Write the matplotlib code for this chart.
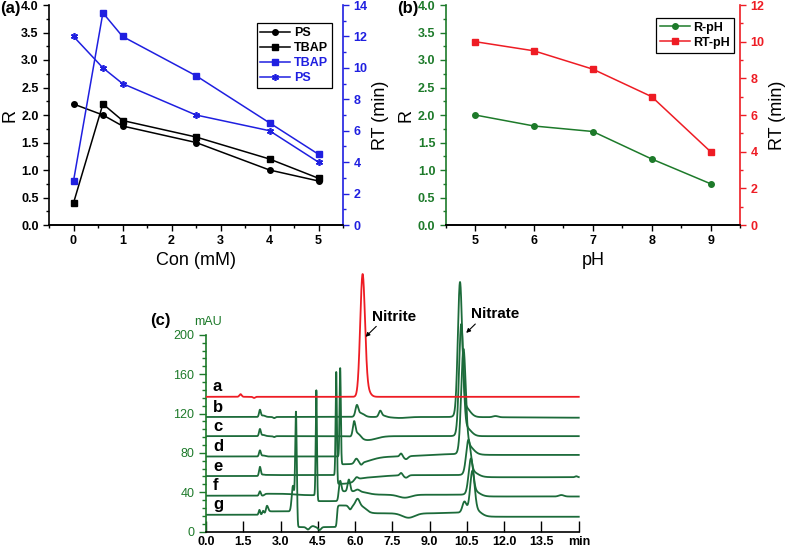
#R / RT study and ion chromatograms
import numpy as np
import matplotlib.pyplot as plt
from matplotlib.ticker import MultipleLocator, FixedLocator

plt.rcParams['font.family'] = ['Liberation Sans', 'DejaVu Sans']
plt.rcParams['font.weight'] = 'bold'

# (a) effect of ion-pair reagent concentration
con = [0, 0.6, 1, 2.5, 4, 5]
r_ps = [2.2, 2.0, 1.8, 1.5, 1.0, 0.8]
r_tbap = [0.4, 2.2, 1.9, 1.6, 1.2, 0.85]
rt_tbap = [2.8, 13.5, 12.0, 9.5, 6.5, 4.5]
rt_ps = [12.0, 10.0, 9.0, 7.0, 6.0, 4.0]

# (b) effect of pH
ph = [5, 6, 7, 8, 9]
r_ph = [2.0, 1.8, 1.7, 1.2, 0.75]
rt_ph = [10.0, 9.5, 8.5, 7.0, 4.0]

# (c) chromatograms: baseline level, peaks (time, height, width), baseline shifts (time, change, width)
trace_names = ['a', 'b', 'c', 'd', 'e', 'f', 'g']
baselines = [137, 116.5, 97, 76.3, 56.4, 36.4, 17]
peaks_a = [(1.39, 2.7, 0.045), (1.93, -1.2, 0.04), (6.3, 119, 0.095), (6.43, 9, 0.14)]
steps_a = []
peaks_b = [(2.17, 7, 0.035), (2.3, 1.5, 0.08), (2.74, -1.2, 0.04), (6.07, 10, 0.055), (6.22, 4, 0.14),
           (7.01, 5.5, 0.055), (7.12, 1.5, 0.12), (7.8, -1, 0.3), (10.22, 130, 0.085), (10.4, 11, 0.2),
           (11.65, 1.2, 0.1)]
steps_b = [(12.5, -0.8, 2.0)]
peaks_c = [(2.17, 7, 0.035), (2.3, 1.2, 0.08), (2.74, -1, 0.04), (5.96, 14, 0.05), (6.1, 5, 0.12),
           (6.5, -4, 0.35), (10.27, 108, 0.085), (10.45, 9, 0.2)]
steps_c = []
peaks_d = [(2.17, 6, 0.035), (2.3, 1, 0.08), (5.40, 90, 0.025), (6.05, 5, 0.07), (6.25, -2, 0.05),
           (7.85, 3, 0.05), (8.05, -3, 0.08), (10.36, 101, 0.09), (10.54, 9, 0.2)]
steps_d = [(5.44, -8, 0.02), (6.6, 8, 0.5), (8.8, 2.5, 0.8), (11.0, -0.9, 0.3)]
peaks_e = [(2.17, 9, 0.035), (2.3, 1.5, 0.08), (5.24, 105, 0.025), (6.05, 3, 0.07), (7.85, 2.5, 0.05),
           (8.05, -2.5, 0.08), (10.56, 33, 0.09), (10.7, 4, 0.2), (14.9, 1, 0.05)]
steps_e = [(2.4, 1, 0.05), (5.28, -9, 0.02), (6.0, 6, 0.25), (7.0, 3, 0.7), (11.0, -2.2, 0.3)]
peaks_f = [(2.17, 4.5, 0.035), (4.44, 107, 0.025), (5.4, 11, 0.045), (5.75, 12, 0.05), (6.1, 2, 0.08),
           (8.0, -3, 0.25), (10.66, 34, 0.09), (10.8, 4, 0.2), (14.3, 1.5, 0.1)]
steps_f = [(2.35, 2, 0.05), (3.6, -1.5, 0.4), (4.47, -6, 0.02), (5.33, 10, 0.04), (6.5, -3.5, 0.3),
           (11.0, -1.8, 0.3)]
peaks_g = [(2.15, 5, 0.03), (2.3, 4, 0.035), (2.45, 6, 0.05), (3.5, 26, 0.05), (3.62, 100, 0.03),
           (4.1, -2.5, 0.06), (4.3, 1, 0.06), (4.57, -3, 0.06), (5.8, -4, 0.06), (6.1, 7, 0.08),
           (8.15, -4.5, 0.25), (10.4, 11, 0.08), (10.72, 40, 0.09), (10.86, 4, 0.2)]
steps_g = [(2.42, 3.5, 0.03), (3.68, -16, 0.02), (5.27, 22, 0.03), (6.45, -8, 0.18), (9.6, 0.8, 0.4),
           (11.0, -4.3, 0.3)]
all_peaks = [peaks_a, peaks_b, peaks_c, peaks_d, peaks_e, peaks_f, peaks_g]
all_steps = [steps_a, steps_b, steps_c, steps_d, steps_e, steps_f, steps_g]
time_ticks = [0, 1.5, 3, 4.5, 6, 7.5, 9, 10.5, 12, 13.5, 15]
time_labels = ['0.0', '1.5', '3.0', '4.5', '6.0', '7.5', '9.0', '10.5', '12.0', '13.5', 'min']

blue = '#1f1fe0'
green = '#1d7a2a'
red = '#ee1c24'
trace_green = '#1c6b3a'

fig = plt.figure(figsize=(7.87, 5.57), dpi=100)


def style_axis(ax):
    ax.tick_params(which='major', length=4, width=1, labelsize=9)
    ax.tick_params(which='minor', length=2.5, width=1)
    for s in ax.spines.values():
        s.set_linewidth(1.2)


# ---- panel (a)
ax1 = fig.add_axes([49/787, 1-225/557, 294/787, 220/557])
ax1r = ax1.twinx()
ax1.plot(con, r_ps, '-o', color='k', ms=4, lw=1.1, label='PS')
ax1.plot(con, r_tbap, '-s', color='k', ms=4, lw=1.1, label='TBAP')
ax1r.plot(con, rt_tbap, '-s', color=blue, ms=4, lw=1.1, label='TBAP')
ax1r.plot(con, rt_ps, '-', marker=(6, 2, 0), color=blue, ms=5, mew=1.2, lw=1.1, label='PS')
ax1.set_xlim(-0.5, 5.5)
ax1.set_ylim(0, 4)
ax1r.set_ylim(0, 14)
ax1.xaxis.set_minor_locator(MultipleLocator(0.5))
ax1.set_yticks(np.arange(0, 4.01, 0.5))
ax1.set_yticklabels(['%.1f' % v for v in np.arange(0, 4.01, 0.5)])
ax1.yaxis.set_minor_locator(MultipleLocator(0.25))
ax1r.yaxis.set_major_locator(MultipleLocator(2))
ax1r.yaxis.set_minor_locator(MultipleLocator(1))
for a in (ax1, ax1r):
    style_axis(a)
    a.spines['top'].set_visible(False)
ax1.spines['right'].set_visible(False)
ax1r.spines['left'].set_visible(False)
ax1r.spines['right'].set_color(blue)
ax1r.tick_params(axis='y', which='both', colors=blue)
ax1.set_xlabel('Con (mM)', fontsize=13, fontweight='normal', labelpad=3)
ax1.set_ylabel('R', fontsize=13, fontweight='normal', labelpad=2)
ax1r.set_ylabel('RT (min)', fontsize=13, fontweight='normal', labelpad=3)
h1, l1 = ax1.get_legend_handles_labels()
h2, l2 = ax1r.get_legend_handles_labels()
leg = ax1r.legend(h1 + h2, l1 + l2, loc='upper left', bbox_to_anchor=(0.706, 0.917), borderaxespad=0,
                  fancybox=False, edgecolor='k', framealpha=1, fontsize=9, handlelength=2.4,
                  borderpad=0.3, labelspacing=0.25, handletextpad=0.3)
leg.get_frame().set_linewidth(0.9)
leg.get_texts()[2].set_color(blue)
leg.get_texts()[3].set_color(blue)

# ---- panel (b)
ax2 = fig.add_axes([445.7/787, 1-225/557, 294.3/787, 220/557])
ax2r = ax2.twinx()
ax2.plot(ph, r_ph, '-o', color=green, ms=4, lw=1.1, label='R-pH')
ax2r.plot(ph, rt_ph, '-s', color=red, ms=4, lw=1.1, label='RT-pH')
ax2.set_xlim(4.5, 9.5)
ax2.set_ylim(0, 4)
ax2r.set_ylim(0, 12)
ax2.xaxis.set_minor_locator(MultipleLocator(0.5))
ax2.set_yticks(np.arange(0, 4.01, 0.5))
ax2.set_yticklabels(['%.1f' % v for v in np.arange(0, 4.01, 0.5)])
ax2.yaxis.set_minor_locator(MultipleLocator(0.25))
ax2r.yaxis.set_major_locator(MultipleLocator(2))
ax2r.yaxis.set_minor_locator(MultipleLocator(1))
for a in (ax2, ax2r):
    style_axis(a)
    a.spines['top'].set_visible(False)
ax2.spines['right'].set_visible(False)
ax2r.spines['left'].set_visible(False)
ax2.spines['left'].set_color(green)
ax2.tick_params(axis='y', which='both', colors=green)
ax2r.spines['right'].set_color(red)
ax2r.tick_params(axis='y', which='both', colors=red)
ax2.set_xlabel('pH', fontsize=13, fontweight='normal', labelpad=3)
ax2.set_ylabel('R', fontsize=13, fontweight='normal', labelpad=2)
ax2r.set_ylabel('RT (min)', fontsize=13, fontweight='normal', labelpad=3)
h1, l1 = ax2.get_legend_handles_labels()
h2, l2 = ax2r.get_legend_handles_labels()
leg = ax2r.legend(h1 + h2, l1 + l2, loc='upper left', bbox_to_anchor=(0.7146, 0.941), borderaxespad=0,
                  fancybox=False, edgecolor='k', framealpha=1, fontsize=9, handlelength=2.4,
                  borderpad=0.3, labelspacing=0.25, handletextpad=0.3)
leg.get_frame().set_linewidth(0.9)

# ---- panel (c)
ax3 = fig.add_axes([206/787, 1-531.5/557, 374/787, 261.5/557])
t = np.linspace(0, 15, 6001)
for i, name in enumerate(trace_names):
    y = np.full_like(t, baselines[i])
    for t0, h, w in all_peaks[i]:
        y += h * np.exp(-0.5 * ((t - t0) / w) ** 2)
    for t0, d, w in all_steps[i]:
        y += d * 0.5 * (1 + np.tanh((t - t0) / w))
    col = red if name == 'a' else trace_green
    ax3.plot(t, y, color=col, lw=1.3, zorder=3 if name == 'a' else 2)
    ax3.text(0.28, baselines[i] + 2.5, name, fontsize=12, fontweight='bold', va='bottom', ha='left')

ax3.set_xlim(0, 15.05)
ax3.set_ylim(0, 266)
for s in ['top', 'right']:
    ax3.spines[s].set_visible(False)
ax3.spines['left'].set_bounds(0, 200)
ax3.spines['left'].set_color(green)
ax3.spines['bottom'].set_bounds(0, 15)
ax3.spines['left'].set_linewidth(1.2)
ax3.spines['bottom'].set_linewidth(1.2)
ax3.set_yticks(range(0, 201, 40))
ax3.yaxis.set_minor_locator(FixedLocator([v for v in range(0, 201, 8) if v % 40]))
ax3.tick_params(axis='y', which='major', colors=green, length=5, width=1, labelsize=9)
ax3.tick_params(axis='y', which='minor', colors=green, length=3, width=1)
for lbl in ax3.get_yticklabels():
    lbl.set_fontweight('normal')
ax3.set_xticks(time_ticks)
ax3.set_xticklabels(time_labels)
ax3.tick_params(axis='x', direction='in', length=8, width=1, labelsize=9, pad=3)
ax3.annotate('Nitrite', xy=(6.42, 198), xytext=(6.7, 218.6), fontsize=11, fontweight='bold',
             va='center', ha='left',
             arrowprops=dict(arrowstyle='-|>', color='k', lw=0.8, mutation_scale=6, shrinkA=0, shrinkB=0,
                             relpos=(0.15, 0.0)))
ax3.annotate('Nitrate', xy=(10.47, 202), xytext=(10.66, 221), fontsize=11, fontweight='bold',
             va='center', ha='left',
             arrowprops=dict(arrowstyle='-|>', color='k', lw=0.8, mutation_scale=6, shrinkA=0, shrinkB=0,
                             relpos=(0.15, 0.0)))

fig.text(0.0, 1-8/557, '(a)', fontsize=12, fontweight='bold', va='center', ha='left')
fig.text(397/787, 1-8/557, '(b)', fontsize=12, fontweight='bold', va='center', ha='left')
fig.text(150/787, 1-321/557, '(c)', fontsize=12, fontweight='bold', va='center', ha='left')
fig.text(208/787, 1-322/557, 'mAU', fontsize=9, fontweight='normal', color=green, va='center', ha='center')

fig.savefig('out.png', dpi=100)
